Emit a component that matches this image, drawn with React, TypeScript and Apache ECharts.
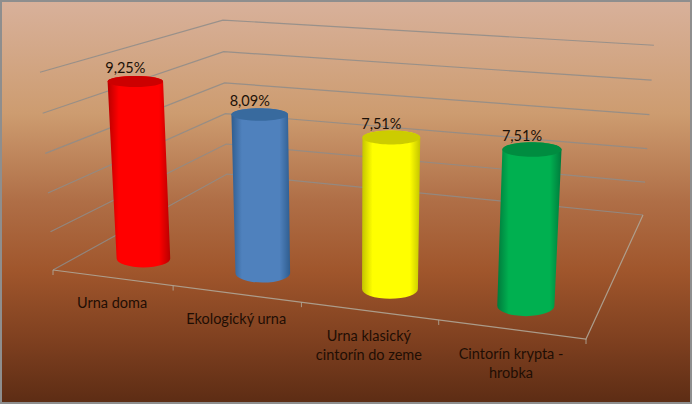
import React, { useEffect, useRef } from "react";
import * as echarts from "echarts";

const categories = ["Urna doma", "Ekologický urna", "Urna klasický\ncintorín do zeme", "Cintorín krypta -\nhrobka"];
const shares = [9.25, 8.09, 7.51, 7.51];
const shareLabels = ["9,25%", "8,09%", "7,51%", "7,51%"];
const gridTicks = [0, 2, 4, 6, 8, 10];
const barColors = [
  { edge: "#b80000", body: "#ff0000", top: "#cc0000" },
  { edge: "#2f5d8f", body: "#4f81bd", top: "#386a9e" },
  { edge: "#c4c400", body: "#ffff00", top: "#cccc00" },
  { edge: "#007a3c", body: "#00b050", top: "#008c40" },
];

type P = [number, number];

// Floor homography in homogeneous form; corners: front-left, front-right, back-right, back-left
function floorMatrix(p0: P, p1: P, p2: P, p3: P) {
  const dx1 = p1[0] - p2[0], dx2 = p3[0] - p2[0], sx = p0[0] - p1[0] + p2[0] - p3[0];
  const dy1 = p1[1] - p2[1], dy2 = p3[1] - p2[1], sy = p0[1] - p1[1] + p2[1] - p3[1];
  const den = dx1 * dy2 - dx2 * dy1;
  const g = (sx * dy2 - dx2 * sy) / den;
  const h = (dx1 * sy - sx * dy1) / den;
  return {
    a: p1[0] - p0[0] + g * p1[0], b: p3[0] - p0[0] + h * p3[0], c: p0[0],
    d: p1[1] - p0[1] + g * p1[1], e: p3[1] - p0[1] + h * p3[1], f: p0[1],
    g, h,
  };
}

const M = floorMatrix([53, 270], [586, 339], [643, 215], [227, 174]);
const VANISH: P = [350, 4780];
const KAPPA = -0.042;
const BAR_DEPTH = 0.155;

function project(u: number, w: number, h: number): P {
  const q = M.g * u + M.h * w + 1 + KAPPA * h;
  return [
    (M.a * u + M.b * w + M.c + KAPPA * h * VANISH[0]) / q,
    (M.d * u + M.e * w + M.f + KAPPA * h * VANISH[1]) / q,
  ];
}

function axisFractions(api: any, params: any, x: number, y: number) {
  const s = params.coordSys;
  const pt = api.coord([x, y]);
  return { u: (pt[0] - s.x) / s.width, h: (s.y + s.height - pt[1]) / s.height };
}

const LINE = { stroke: "rgba(142,140,138,0.85)", lineWidth: 1.2, fill: "none" };

function renderWall(params: any, api: any) {
  const { h } = axisFractions(api, params, 0, api.value(1));
  return {
    type: "polyline",
    shape: { points: [project(0, 0, h), project(0, 1, h), project(1, 1, h)] },
    style: LINE,
    silent: true,
  };
}

function renderFloor(params: any, api: any) {
  const children: any[] = [
    {
      type: "polyline",
      shape: { points: [project(0, 0, 0), project(1, 0, 0), project(1, 1, 0)] },
      style: { stroke: "rgba(175,165,150,0.9)", lineWidth: 1.2, fill: "none" },
    },
  ];
  for (let i = 0; i <= categories.length; i++) {
    const p = project(i / categories.length, 0, 0);
    children.push({
      type: "line",
      shape: { x1: p[0], y1: p[1], x2: p[0], y2: p[1] + 5 },
      style: { stroke: "rgba(175,165,150,0.9)", lineWidth: 1 },
    });
  }
  return { type: "group", children, silent: true };
}

function renderCylinder(params: any, api: any) {
  const i = params.dataIndex;
  const { u, h } = axisFractions(api, params, api.value(0), api.value(1));
  const b = project(u, BAR_DEPTH, 0);
  const t = project(u, BAR_DEPTH, h);
  const n = categories.length;
  const spacing = project((i + 1) / n, 0, 0)[0] - project(i / n, 0, 0)[0];
  const rxB = 19 + 0.065 * spacing;
  const rxT = rxB * 1.035;
  const ryOf = (y: number, rx: number) => rx * (0.2 + (y - 84) * 0.00075);
  const ryB = ryOf(b[1], rxB);
  const ryT = ryOf(t[1], rxT);
  const c = barColors[i];
  const path =
    `M${t[0] - rxT} ${t[1]} L${b[0] - rxB} ${b[1]} ` +
    `A${rxB} ${ryB} 0 0 0 ${b[0] + rxB} ${b[1]} ` +
    `L${t[0] + rxT} ${t[1]} A${rxT} ${ryT} 0 0 0 ${t[0] - rxT} ${t[1]} Z`;
  return {
    type: "group",
    children: [
      {
        type: "path",
        shape: { pathData: path },
        style: {
          fill: new echarts.graphic.LinearGradient(0, 0, 1, 0, [
            { offset: 0, color: c.edge },
            { offset: 0.18, color: c.body },
            { offset: 0.82, color: c.body },
            { offset: 1, color: c.edge },
          ]),
        },
      },
      {
        type: "ellipse",
        shape: { cx: t[0], cy: t[1], rx: rxT, ry: ryT },
        style: { fill: c.top },
      },
      {
        type: "text",
        style: {
          x: t[0] - 10,
          y: t[1] - 14,
          text: shareLabels[i],
          fill: "#1c1108",
          font: "14.5px Lato",
          align: "center",
          verticalAlign: "middle",
        },
      },
    ],
  };
}

function renderCategory(params: any, api: any) {
  const i = params.dataIndex;
  const { u } = axisFractions(api, params, api.value(0), 0);
  const p = project(u, 0, 0);
  return {
    type: "text",
    style: {
      x: p[0],
      y: p[1] + 15,
      text: categories[i],
      fill: "#1f0e04",
      font: "14.5px Lato",
      lineHeight: 19,
      align: "center",
      verticalAlign: "top",
    },
    silent: true,
  };
}

export default function App() {
  const ref = useRef<HTMLDivElement>(null);
  useEffect(() => {
    const chart = echarts.init(ref.current!, undefined, { renderer: "svg" });
    const barData = shares.map((v, i) => [i, v]);
    chart.setOption({
      animation: false,
      backgroundColor: new echarts.graphic.LinearGradient(0, 0, 0, 1, [
        { offset: 0, color: "#d8b19b" },
        { offset: 0.28, color: "#cd9c70" },
        { offset: 0.5, color: "#af6e46" },
        { offset: 0.67, color: "#a0562c" },
        { offset: 0.85, color: "#7d3f1f" },
        { offset: 1, color: "#5c2c14" },
      ]),
      grid: { left: 0, right: 0, top: 0, bottom: 0 },
      xAxis: { type: "category", data: categories, show: false },
      yAxis: { type: "value", min: 0, max: 10, interval: 2, show: false },
      graphic: [
        {
          type: "rect",
          shape: { x: 1, y: 1, width: 690, height: 402 },
          style: { fill: "none", stroke: "#8e8e8e", lineWidth: 2 },
          silent: true,
          z: 100,
        },
      ],
      series: [
        { type: "custom", data: gridTicks.map((t) => [0, t]), renderItem: renderWall, silent: true, z: 1 },
        { type: "custom", data: [[0, 0]], renderItem: renderFloor, silent: true, z: 2 },
        { type: "custom", data: barData, renderItem: renderCylinder, silent: true, z: 3 },
        { type: "custom", data: barData, renderItem: renderCategory, silent: true, z: 4 },
      ],
    });
    return () => chart.dispose();
  }, []);
  return <div ref={ref} style={{ position: "absolute", left: 0, top: 0, width: 692, height: 404 }} />;
}
